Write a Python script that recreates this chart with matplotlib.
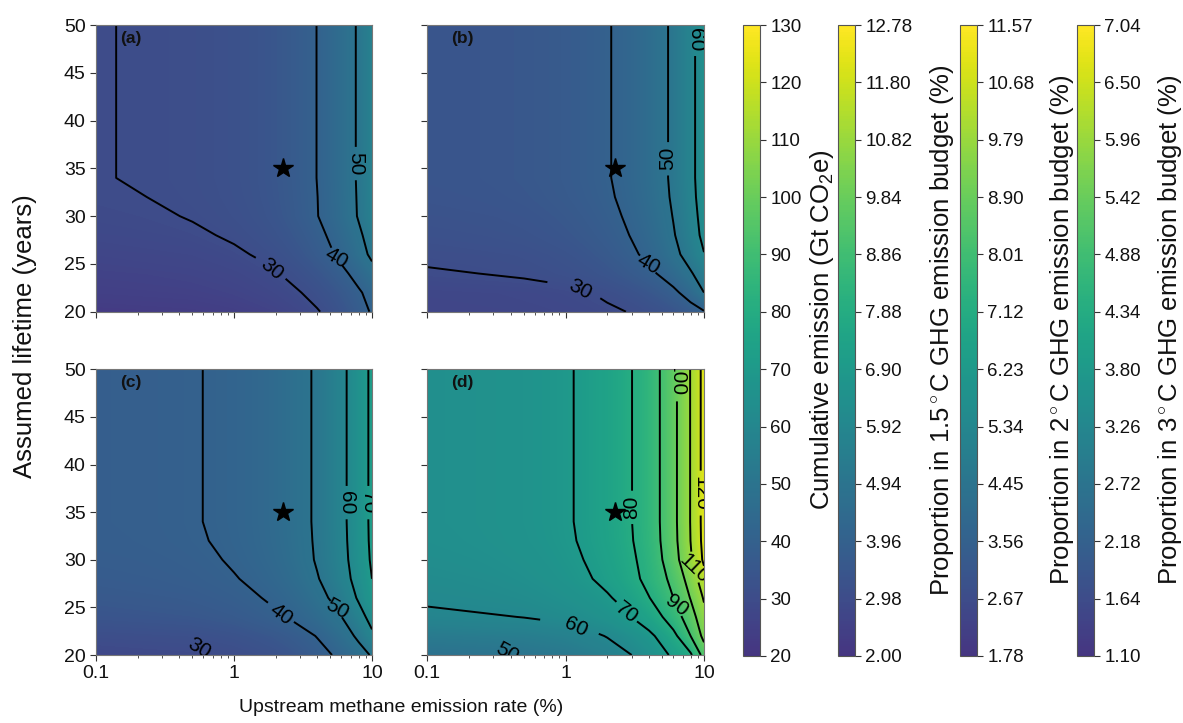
import numpy as np
import matplotlib.pyplot as plt
from matplotlib import cm, colors

plt.rcParams['font.family'] = ['Liberation Sans', 'DejaVu Sans']
plt.rcParams['mathtext.fontset'] = 'custom'
plt.rcParams['mathtext.rm'] = 'Liberation Sans'
plt.rcParams['mathtext.it'] = 'Liberation Sans:italic'

# grid nodes: upstream methane emission rate (%) and assumed lifetime (years)
rate = [0.1, 0.5, 1, 2, 4, 6, 8, 10]
lifetime = [20, 22, 24, 26, 28, 30, 32, 34, 50]

# cumulative emission (Gt CO2e), one row per lifetime node
emis_a = [
    [22.4, 23.1, 24.05, 25.9, 29.6, 33.4, 37.1, 40.8],
    [24.5, 25.2, 26.15, 28.0, 31.7, 35.4, 39.1, 42.8],
    [25.7, 26.6, 27.65, 29.8, 34.1, 38.4, 42.7, 47.0],
    [27.0, 28.0, 29.25, 31.75, 36.75, 41.75, 46.75, 51.75],
    [28.35, 29.4, 30.65, 33.2, 38.3, 43.5, 48.6, 53.7],
    [29.2, 30.25, 31.55, 34.2, 39.8, 45.2, 50.6, 56.0],
    [29.65, 30.7, 32.0, 34.6, 39.9, 45.4, 50.8, 56.3],
    [29.9, 30.9, 32.2, 34.8, 40.1, 45.6, 51.0, 56.5],
    [29.9, 30.9, 32.2, 34.8, 40.1, 45.6, 51.0, 56.5],
]
emis_b = [
    [27.0, 27.5, 28.1, 29.2, 31.4, 33.8, 36.5, 39.5],
    [27.6, 28.3, 29.1, 30.9, 34.6, 38.4, 43.6, 50.0],
    [29.7, 30.6, 31.8, 34.1, 38.6, 43.8, 49.2, 54.6],
    [30.6, 31.7, 33.2, 36.0, 41.8, 47.8, 53.7, 59.7],
    [32.0, 33.2, 34.6, 37.4, 43.3, 49.4, 55.8, 62.3],
    [32.9, 34.0, 35.5, 38.4, 44.3, 50.3, 56.8, 63.2],
    [33.7, 34.8, 36.3, 39.2, 45.1, 51.1, 57.6, 64.0],
    [34.1, 35.2, 36.7, 39.6, 45.5, 51.5, 58.0, 64.4],
    [34.1, 35.2, 36.7, 39.6, 45.5, 51.5, 58.0, 64.4],
]
emis_c = [
    [28.1, 29.0, 30.1, 32.5, 37.4, 42.0, 46.4, 50.9],
    [30.6, 31.5, 32.8, 35.3, 40.3, 46.0, 51.7, 58.2],
    [33.8, 34.9, 36.3, 39.2, 44.5, 49.9, 56.6, 63.4],
    [35.6, 36.8, 38.3, 41.2, 47.3, 53.9, 61.1, 68.3],
    [36.9, 38.2, 39.7, 42.9, 49.5, 56.6, 63.3, 70.0],
    [37.7, 38.9, 40.6, 43.9, 50.7, 57.5, 64.4, 71.3],
    [38.2, 39.5, 41.1, 44.4, 51.0, 57.9, 64.8, 71.9],
    [38.4, 39.7, 41.3, 44.6, 51.2, 58.1, 65.0, 72.1],
    [38.4, 39.7, 41.3, 44.6, 51.2, 58.1, 65.0, 72.1],
]
emis_d = [
    [48.5, 50.0, 52.0, 56.0, 64.0, 71.7, 78.6, 94.0],
    [53.1, 54.6, 56.5, 60.4, 68.1, 77.5, 90.0, 103.0],
    [58.8, 60.2, 62.2, 66.0, 74.7, 85.1, 95.9, 107.0],
    [61.0, 62.7, 64.9, 69.1, 79.7, 90.0, 100.5, 111.0],
    [62.2, 64.3, 67.0, 72.3, 82.9, 93.0, 104.5, 116.0],
    [63.3, 65.4, 68.1, 73.6, 83.8, 96.2, 108.9, 121.9],
    [64.0, 66.2, 68.9, 74.5, 84.7, 97.3, 110.1, 123.2],
    [64.3, 66.5, 69.2, 74.8, 85.0, 97.6, 110.4, 123.5],
    [64.3, 66.5, 69.2, 74.8, 85.0, 97.6, 110.4, 123.5],
]

panel_names = ['(a)', '(b)', '(c)', '(d)']
star_rate = 2.27
star_life = 35

label_pos = [
    [(1.8, 24.2), (5.5, 25.4), (7.7, 35.5)],
    [(1.27, 22.3), (3.9, 24.7), (5.53, 36), (8.63, 48.5)],
    [(0.6, 20.9), (2.2, 24.3), (5.55, 24.9), (6.56, 36), (9.4, 36)],
    [(0.4, 20.3), (1.2, 23.0), (2.77, 24.4), (3.0, 35.5), (6.35, 25),
     (6.5, 49), (8.8, 30), (9.6, 37)],
]

ticks_total = [20, 30, 40, 50, 60, 70, 80, 90, 100, 110, 120, 130]
ticks_15 = [2.00, 2.98, 3.96, 4.94, 5.92, 6.90, 7.88, 8.86, 9.84, 10.82, 11.80, 12.78]
ticks_2 = [1.78, 2.67, 3.56, 4.45, 5.34, 6.23, 7.12, 8.01, 8.90, 9.79, 10.68, 11.57]
ticks_3 = [1.10, 1.64, 2.18, 2.72, 3.26, 3.80, 4.34, 4.88, 5.42, 5.96, 6.50, 7.04]

cb_labels = ['Cumulative emission (Gt CO$_2$e)',
             'Proportion in 1.5$^\\circ$C GHG emission budget (%)',
             'Proportion in 2$^\\circ$C GHG emission budget (%)',
             'Proportion in 3$^\\circ$C GHG emission budget (%)']

W, H = 1183, 723
fig = plt.figure(figsize=(W / 100, H / 100), dpi=100)

boxes = [(96, 25, 276, 286.7), (427.3, 25, 276.7, 286.7),
         (96, 369.3, 276, 285.7), (427.3, 369.3, 276.7, 285.7)]

# the fill colour scale runs from 0, the colour bars only show 20-130
norm = colors.Normalize(0, 130)
cb_cmap = colors.ListedColormap(plt.get_cmap('viridis')(np.linspace(20 / 130, 1, 256)))

X, Y = np.meshgrid(rate, lifetime)
fill_levels = np.linspace(0, 130, 261)
line_levels = np.arange(20, 140, 10)

for i, Z in enumerate([emis_a, emis_b, emis_c, emis_d]):
    x0, y0, w, h = boxes[i]
    ax = fig.add_axes([x0 / W, 1 - (y0 + h) / H, w / W, h / H])
    Z = np.array(Z)
    cf = ax.contourf(X, Y, Z, levels=fill_levels, cmap='viridis', norm=norm)
    cf.set_edgecolor('face')
    cf.set_linewidth(0.4)
    cs = ax.contour(X, Y, Z, levels=line_levels, colors='k', linewidths=1.4)
    ax.clabel(cs, fmt='%d', fontsize=15, inline=True, manual=label_pos[i])
    ax.plot(star_rate, star_life, marker='*', color='k', ms=15, ls='none')
    ax.set_xscale('log')
    ax.set_xlim(0.1, 10)
    ax.set_ylim(20, 50)
    ax.set_xticks([0.1, 1, 10])
    ax.set_yticks([20, 25, 30, 35, 40, 45, 50])
    ax.tick_params(labelsize=14, length=4, color='#333333', labelcolor='#111111')
    ax.tick_params(which='minor', length=2.5, color='#333333')
    if i in (0, 1):
        ax.set_xticklabels([])
    else:
        ax.set_xticklabels(['0.1', '1', '10'])
    if i in (1, 3):
        ax.set_yticklabels([])
    for s in ax.spines.values():
        s.set_color('#777777')
        s.set_linewidth(0.8)
    ax.text(0.087, 0.953, panel_names[i], transform=ax.transAxes, fontsize=12.5,
            fontweight='bold', va='center', ha='left', color='#111111')

fig.text(25 / W, 1 - 336 / H, 'Assumed lifetime (years)', rotation=90,
         ha='center', va='center', fontsize=18.5, color='#111111')
fig.text(401 / W, 1 - 708 / H, 'Upstream methane emission rate (%)',
         ha='center', va='center', fontsize=14, color='#111111')

cb_left = [743, 838, 960, 1077]
cb_text_x = [822, 942, 1062, 1170]
for j, t in enumerate([ticks_total, ticks_15, ticks_2, ticks_3]):
    cax = fig.add_axes([cb_left[j] / W, 1 - 656 / H, 17 / W, 631 / H])
    sm = cm.ScalarMappable(norm=colors.Normalize(t[0], t[-1]), cmap=cb_cmap)
    cb = fig.colorbar(sm, cax=cax, ticks=t)
    if j == 0:
        cb.ax.set_yticklabels([str(v) for v in t])
    else:
        cb.ax.set_yticklabels(['%.2f' % v for v in t])
    cb.ax.tick_params(labelsize=13.5, length=4, color='#333333', labelcolor='#111111')
    cb.outline.set_edgecolor('#555555')
    cb.outline.set_linewidth(0.8)
    fig.text(cb_text_x[j] / W, 1 - 330 / H, cb_labels[j], rotation=90,
             ha='center', va='center', fontsize=18.5, color='#111111')

fig.savefig('out.png', dpi=100)
